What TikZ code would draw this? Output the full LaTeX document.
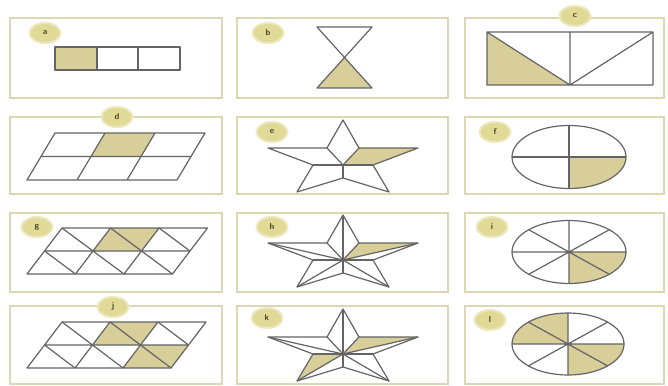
\documentclass[tikz,border=0pt]{standalone}
\usetikzlibrary{shapes.geometric,calc}
\definecolor{pborder}{RGB}{220,216,180}
\definecolor{shade}{RGB}{216,206,154}
\definecolor{lineg}{RGB}{100,100,100}
\definecolor{labfill}{RGB}{224,218,150}
\definecolor{labedge}{RGB}{236,232,192}
\definecolor{labtext}{RGB}{70,65,30}
\newcommand\starcoords[3]{%
\begin{scope}[shift={(#2,#3)}]
\coordinate (#1c) at (0,0);
\coordinate (#1o1) at (0,-45);
\coordinate (#1i1) at (16,-17);
\coordinate (#1o2) at (75,-17);
\coordinate (#1i2) at (30,0);
\coordinate (#1o3) at (46,27);
\coordinate (#1i3) at (0,13);
\coordinate (#1o4) at (-46,27);
\coordinate (#1i4) at (-30,0);
\coordinate (#1o5) at (-75,-17);
\coordinate (#1i5) at (-16,-17);
\end{scope}}
\newcommand\pgrid[6]{\foreach \i in {0,...,3}{\foreach \j in {0,1,2}{\coordinate (#1\i\j) at ({#2+\i*#4-\j*#6/2},{#3+\j*#5/2});}}}
\begin{document}
\begin{tikzpicture}[x=1pt,y=-1pt,
 panel/.style={draw=pborder,line width=1.6pt},
 fig/.style={draw=lineg,line width=1.2pt,line join=round},
 shd/.style={fill=shade},
 lab/.style={ellipse,fill=labfill,draw=labedge,line width=2pt,minimum width=31pt,minimum height=20pt,inner sep=0pt,font=\sffamily\bfseries\fontsize{8.5}{9}\selectfont,text=labtext}]
\useasboundingbox (0,0) rectangle (668,385);
\fill[white] (0,0) rectangle (668,385);
% panels
\foreach \ya/\yb in {18/98,117/194,213/292,306/384}{
  \draw[panel] (10,\ya) rectangle (222,\yb);
  \draw[panel] (237,\ya) rectangle (448,\yb);
  \draw[panel] (465,\ya) rectangle (664,\yb);
}
% a
\fill[shd] (55,47) rectangle (97,70);
\draw[fig] (55,47) rectangle (180,70) (97,47)--(97,70) (138,47)--(138,70);
% b
\fill[shd] (344.5,57.5)--(317,88)--(372,88)--cycle;
\draw[fig] (317,27)--(372,27)--(317,88)--(372,88)--cycle;
% c
\fill[shd] (487,32)--(570,85)--(487,85)--cycle;
\draw[fig] (487,32) rectangle (653,85) (570,32)--(570,85) (487,32)--(570,85)--(653,32);
% d
\pgrid{D}{55}{133}{50}{47}{28}
\fill[shd] (D10)--(D20)--(D21)--(D11)--cycle;
\draw[fig] (D00)--(D30)--(D32)--(D02)--cycle (D01)--(D31) (D10)--(D12) (D20)--(D22);
% g
\pgrid{G}{62}{228}{48.5}{46}{35}
\fill[shd] (G10)--(G20)--(G21)--(G11)--cycle;
\draw[fig] (G00)--(G30)--(G32)--(G02)--cycle (G01)--(G31) (G10)--(G12) (G20)--(G22);
\draw[fig] (G00)--(G22) (G10)--(G32) (G20)--(G31) (G01)--(G12);
% j
\pgrid{J}{62}{322}{48}{46}{35}
\fill[shd] (J10)--(J20)--(J21)--(J11)--cycle;
\fill[shd] (J21)--(J31)--(J32)--(J22)--cycle;
\draw[fig] (J00)--(J30)--(J32)--(J02)--cycle (J01)--(J31) (J10)--(J12) (J20)--(J22);
\draw[fig] (J00)--(J22) (J10)--(J32) (J20)--(J31) (J01)--(J12);
% stars
\starcoords{E}{343}{165}
\starcoords{H}{343}{260}
\starcoords{K}{343}{354}
\fill[shd] (Ec)--(Ei1)--(Eo2)--(Ei2)--cycle;
\fill[shd] (Hc)--(Hi1)--(Ho2)--cycle;
\fill[shd] (Kc)--(Ki1)--(Ko2)--cycle;
\fill[shd] (Kc)--(Ki4)--(Ko4)--cycle;
\foreach \s in {E,H,K}{
  \draw[fig] (\s o1)--(\s i1)--(\s o2)--(\s i2)--(\s o3)--(\s i3)--(\s o4)--(\s i4)--(\s o5)--(\s i5)--cycle;
  \foreach \k in {1,...,5}{\draw[fig] (\s c)--(\s i\k);}
}
\foreach \s in {H,K}{\foreach \k in {1,...,5}{\draw[fig] (\s c)--(\s o\k);}}
% ellipses
\coordinate (F) at (569,157);
\coordinate (I) at (569,252);
\coordinate (L) at (568,344);
\fill[shd] (F)--($(F)+(57,0)$) arc[start angle=0,end angle=90,x radius=57,y radius=31.5]--cycle;
\draw[fig] (F) ellipse[x radius=57,y radius=31.5];
\draw[fig] ($(F)+(-57,0)$)--($(F)+(57,0)$) ($(F)+(0,-31.5)$)--($(F)+(0,31.5)$);
\fill[shd] (I)--($(I)+(57,0)$) arc[start angle=0,end angle=90,x radius=57,y radius=31.5]--cycle;
\draw[fig] (I) ellipse[x radius=57,y radius=31.5];
\draw[fig] ($(I)+(-57,0)$)--($(I)+(57,0)$) ($(I)+(0,-31.5)$)--($(I)+(0,31.5)$)
  ($(I)+(-40.3,-22.3)$)--($(I)+(40.3,22.3)$) ($(I)+(-40.3,22.3)$)--($(I)+(40.3,-22.3)$);
\fill[shd] (L)--($(L)+(56,0)$) arc[start angle=0,end angle=90,x radius=56,y radius=31]--cycle;
\fill[shd] (L)--($(L)+(-56,0)$) arc[start angle=180,end angle=270,x radius=56,y radius=31]--cycle;
\draw[fig] (L) ellipse[x radius=56,y radius=31];
\draw[fig] ($(L)+(-56,0)$)--($(L)+(56,0)$) ($(L)+(0,-31)$)--($(L)+(0,31)$)
  ($(L)+(-39.6,-21.9)$)--($(L)+(39.6,21.9)$) ($(L)+(-39.6,21.9)$)--($(L)+(39.6,-21.9)$);
% labels
\node[lab] (la) at (45,33) {a};
\node[lab] (lb) at (268,33) {b};
\node[lab] (lc) at (575,16) {c};
\node[lab] (ld) at (117,117) {d};
\node[lab] (le) at (272,132) {e};
\node[lab] (lf) at (495,132) {f};
\node[lab] (lg) at (37,227) {g};
\node[lab] (lh) at (272,227) {h};
\node[lab] (li) at (492,227) {i};
\node[lab] (lj) at (113,307) {j};
\node[lab] (lk) at (267,318) {k};
\node[lab] (ll) at (490,320) {l};
\end{tikzpicture}
\end{document}
